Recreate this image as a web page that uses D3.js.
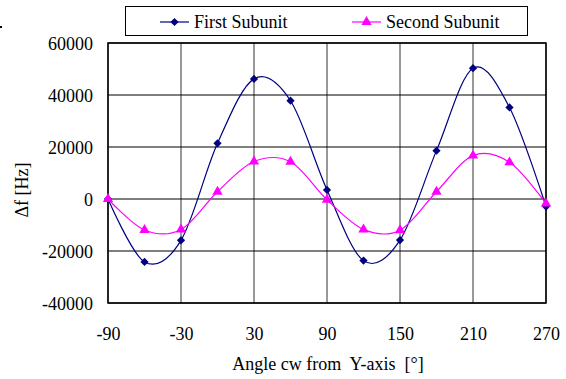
<!DOCTYPE html>
<html>
<head>
<meta charset="utf-8">
<script src="https://cdn.jsdelivr.net/npm/d3@7"></script>
<style>
  body { margin: 0; background: #fff; }
  svg { display: block; }
  svg text { font-family: 'Liberation Serif', 'Times New Roman', Times, 'DejaVu Serif', serif !important; font-size: 18px !important; fill: #000; }
</style>
</head>
<body>
<svg id="chart" width="566" height="379"></svg>
<script>
var WIDTH = 566;
var HEIGHT = 379;

// data
var angles = [-90, -60, -30, 0, 30, 60, 90, 120, 150, 180, 210, 240, 270];
var firstSubunit = [0, -24200, -15900, 21400, 46200, 37800, 3500, -23700, -15800, 18600, 50300, 35200, -2900];
var secondSubunit = [0, -11900, -11700, 2800, 14400, 14300, -300, -11700, -12000, 2800, 16700, 14100, -1700];
var xTicks = [-90, -30, 30, 90, 150, 210, 270];
var yTicks = [-40000, -20000, 0, 20000, 40000, 60000];
var seriesNames = ['First Subunit', 'Second Subunit'];

var margin = { left: 108, right: 20, top: 43, bottom: 76 };

var svg = d3.select('#chart');

var x = d3.scaleLinear()
  .domain([-90, 270])
  .range([margin.left, WIDTH - margin.right]);

var y = d3.scaleLinear()
  .domain([-40000, 60000])
  .range([HEIGHT - margin.bottom, margin.top]);

// grid
svg.append('g')
  .selectAll('line')
  .data(xTicks)
  .enter().append('line')
  .attr('x1', function (d) { return x(d); })
  .attr('x2', function (d) { return x(d); })
  .attr('y1', y(60000))
  .attr('y2', y(-40000))
  .attr('stroke', '#333')
  .attr('stroke-width', 1);

svg.append('g')
  .selectAll('line')
  .data(yTicks)
  .enter().append('line')
  .attr('x1', x(-90))
  .attr('x2', x(270))
  .attr('y1', function (d) { return y(d); })
  .attr('y2', function (d) { return y(d); })
  .attr('stroke', '#000')
  .attr('stroke-width', 1);

// plot border
svg.append('rect')
  .attr('x', x(-90))
  .attr('y', y(60000))
  .attr('width', x(270) - x(-90))
  .attr('height', y(-40000) - y(60000))
  .attr('fill', 'none')
  .attr('stroke', '#000')
  .attr('stroke-width', 1.5);

// axes labels
var fmt = function (d) { return d < 0 ? '-' + Math.abs(d) : String(d); };

var gy = svg.append('g')
  .attr('transform', 'translate(' + x(-90) + ',0)')
  .call(d3.axisLeft(y).tickValues(yTicks).tickSize(0).tickPadding(15).tickFormat(fmt))
  .attr('font-size', 18);
gy.select('.domain').remove();
gy.selectAll('text').attr('dy', '0.35em');

var gx = svg.append('g')
  .attr('transform', 'translate(0,' + y(-40000) + ')')
  .call(d3.axisBottom(x).tickValues(xTicks).tickSize(0).tickPadding(24).tickFormat(fmt))
  .attr('font-size', 18);
gx.select('.domain').remove();

// axis titles
svg.append('text')
  .attr('x', 328)
  .attr('y', 370)
  .attr('text-anchor', 'middle')
  .style('white-space', 'pre')
  .text('Angle cw from  Y-axis  [\u00b0]');

svg.append('text')
  .attr('transform', 'translate(28,190) rotate(-90)')
  .attr('text-anchor', 'middle')
  .text('\u0394f [Hz]');

// series
var line = d3.line()
  .x(function (d) { return x(d[0]); })
  .y(function (d) { return y(d[1]); })
  .curve(d3.curveCatmullRom.alpha(0));

var series = [
  { name: seriesNames[0], values: d3.zip(angles, firstSubunit), color: '#000080', symbol: d3.symbolSquare, size: 34, rotate: 45 },
  { name: seriesNames[1], values: d3.zip(angles, secondSubunit), color: '#ff00ff', symbol: d3.symbolTriangle, size: 46, rotate: 0 }
];

series.forEach(function (s) {
  svg.append('path')
    .datum(s.values)
    .attr('d', line)
    .attr('fill', 'none')
    .attr('stroke', s.color)
    .attr('stroke-width', 1.2);
});

series.forEach(function (s) {
  svg.append('g')
    .selectAll('path')
    .data(s.values)
    .enter().append('path')
    .attr('d', d3.symbol().type(s.symbol).size(s.size))
    .attr('transform', function (d) {
      return 'translate(' + x(d[0]) + ',' + y(d[1]) + ') rotate(' + s.rotate + ')';
    })
    .attr('fill', s.color);
});

// legend
svg.append('rect')
  .attr('x', 125.5)
  .attr('y', 6.5)
  .attr('width', 402)
  .attr('height', 29)
  .attr('fill', '#fff')
  .attr('stroke', '#000')
  .attr('stroke-width', 1);

var legendX = [160, 352];
series.forEach(function (s, i) {
  var g = svg.append('g').attr('transform', 'translate(' + legendX[i] + ',22)');
  g.append('line')
    .attr('x1', 0).attr('x2', 29)
    .attr('stroke', s.color)
    .attr('stroke-width', 1.2);
  g.append('path')
    .attr('d', d3.symbol().type(s.symbol).size(s.size))
    .attr('transform', 'translate(14.5,0) rotate(' + s.rotate + ')')
    .attr('fill', s.color);
  g.append('text')
    .attr('x', 34)
    .attr('y', 6)
    .text(s.name);
});

// small stray mark at the top left of the original
svg.append('rect')
  .attr('x', 0).attr('y', 26)
  .attr('width', 2).attr('height', 2)
  .attr('fill', '#000');
</script>
</body>
</html>
